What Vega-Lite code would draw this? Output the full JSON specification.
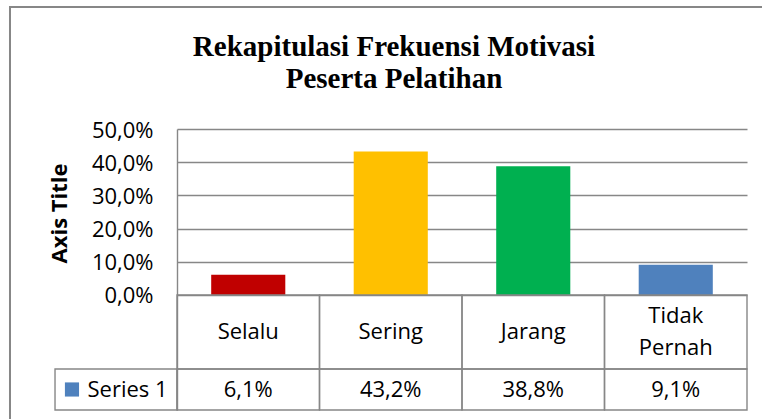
{
  "$schema": "https://vega.github.io/schema/vega-lite/v6.json",
  "width": 570,
  "height": 281,
  "autosize": {"type": "none"},
  "padding": {"left": 177, "top": 129, "right": 15, "bottom": 9},
  "background": "white",
  "title": {
    "text": ["Rekapitulasi Frekuensi Motivasi", "Peserta Pelatihan"],
    "font": "Liberation Serif",
    "fontSize": 29,
    "fontWeight": "bold",
    "color": "#000000",
    "lineHeight": 32,
    "anchor": "middle",
    "frame": "group",
    "dx": -68,
    "dy": 92
  },
  "data": {
    "values": [
      {"kategori": "Selalu", "nilai": 0.061},
      {"kategori": "Sering", "nilai": 0.432},
      {"kategori": "Jarang", "nilai": 0.388},
      {"kategori": "Tidak Pernah", "nilai": 0.091}
    ]
  },
  "layer": [
    {
      "layer": [
        {
          "mark": {"type": "bar", "width": {"band": 0.52}},
          "encoding": {
            "x": {
              "field": "kategori",
              "type": "nominal",
              "scale": {"domain": ["Selalu", "Sering", "Jarang", "Tidak Pernah"], "paddingInner": 0, "paddingOuter": 0},
              "axis": null
            },
            "y": {
              "field": "nilai",
              "type": "quantitative",
              "scale": {"domain": [-0.3464, 0.5], "nice": false, "zero": false},
              "axis": {
                "values": [0, 0.1, 0.2, 0.3, 0.4, 0.5],
                "format": ".1%",
                "grid": true,
                "gridColor": "#878787",
                "gridWidth": 1.4,
                "domain": true,
                "domainColor": "#878787",
                "domainWidth": 1.4,
                "ticks": false,
                "labelFont": "Open Sans",
                "labelFontSize": 22,
                "labelColor": "#000000",
                "labelPadding": 24,
                "labelOffset": 1,
                "title": "Axis Title",
                "titleFont": "Open Sans",
                "titleFontSize": 22,
                "titleFontWeight": "bold",
                "titleColor": "#000000",
                "titleAngle": -90,
                "titleAlign": "center",
                "titleBaseline": "alphabetic",
                "titleX": -111,
                "titleY": 84
              }
            },
            "y2": {"datum": 0},
            "color": {
              "field": "kategori",
              "type": "nominal",
              "scale": {"domain": ["Selalu", "Sering", "Jarang", "Tidak Pernah"], "range": ["#C00000", "#FFC000", "#00B050", "#4F81BD"]},
              "legend": null
            }
          }
        },
        {
          "mark": {"type": "rect", "fill": "transparent", "stroke": "#878787", "strokeWidth": 1.4},
          "encoding": {
            "x": {"field": "kategori", "type": "nominal", "axis": null},
            "y": {"datum": 0, "type": "quantitative"},
            "y2": {"datum": -0.2229}
          }
        },
        {
          "mark": {"type": "rect", "fill": "transparent", "stroke": "#878787", "strokeWidth": 1.4},
          "encoding": {
            "x": {"field": "kategori", "type": "nominal", "axis": null},
            "y": {"datum": -0.2229, "type": "quantitative"},
            "y2": {"datum": -0.3464}
          }
        },
        {
          "transform": [{"filter": "datum.kategori !== 'Tidak Pernah'"}],
          "mark": {"type": "text", "baseline": "middle", "align": "center"},
          "encoding": {
            "x": {"field": "kategori", "type": "nominal", "axis": null},
            "y": {"datum": -0.1114, "type": "quantitative"},
            "text": {"field": "kategori"}
          }
        },
        {
          "transform": [{"filter": "datum.kategori === 'Tidak Pernah'"}],
          "mark": {"type": "text", "lineBreak": " ", "lineHeight": 32, "baseline": "middle", "align": "center", "dy": -16},
          "encoding": {
            "x": {"field": "kategori", "type": "nominal", "axis": null},
            "y": {"datum": -0.1114, "type": "quantitative"},
            "text": {"field": "kategori"}
          }
        },
        {
          "mark": {"type": "text", "baseline": "middle", "align": "center", "dy": 1},
          "encoding": {
            "x": {"field": "kategori", "type": "nominal", "axis": null},
            "y": {"datum": -0.2846, "type": "quantitative"},
            "text": {"field": "nilai", "type": "quantitative", "format": ".1%"}
          }
        }
      ]
    },
    {
      "data": {"values": [{"seri": "Series 1"}]},
      "layer": [
        {
          "mark": {"type": "rect", "fill": "transparent", "stroke": "#878787", "strokeWidth": 2},
          "encoding": {
            "x": {"datum": -1.172, "type": "quantitative", "scale": {"domain": [0, 4], "nice": false, "zero": false}, "axis": null},
            "x2": {"datum": 4.4},
            "y": {"datum": 0.8675, "type": "quantitative"},
            "y2": {"datum": -0.45}
          }
        },
        {
          "mark": {"type": "rect", "fill": "transparent", "stroke": "#878787", "strokeWidth": 1.4},
          "encoding": {
            "x": {"datum": -0.856, "type": "quantitative", "axis": null},
            "x2": {"datum": 0},
            "y": {"datum": -0.2229, "type": "quantitative"},
            "y2": {"datum": -0.3464}
          }
        },
        {
          "mark": {"type": "point", "shape": "square", "filled": true, "size": 200, "color": "#4F81BD", "opacity": 1},
          "encoding": {
            "x": {"datum": -0.737, "type": "quantitative", "axis": null},
            "y": {"datum": -0.2846, "type": "quantitative"}
          }
        },
        {
          "mark": {"type": "text", "baseline": "middle", "align": "left", "dy": 1},
          "encoding": {
            "x": {"datum": -0.628, "type": "quantitative", "axis": null},
            "y": {"datum": -0.2846, "type": "quantitative"},
            "text": {"field": "seri"}
          }
        }
      ]
    }
  ],
  "resolve": {"scale": {"x": "independent"}},
  "config": {
    "view": {"stroke": null},
    "locale": {"number": {"decimal": ",", "thousands": ".", "grouping": [3], "currency": ["Rp", ""]}},
    "text": {"font": "Open Sans", "fontSize": 22, "color": "#000000"}
  }
}
